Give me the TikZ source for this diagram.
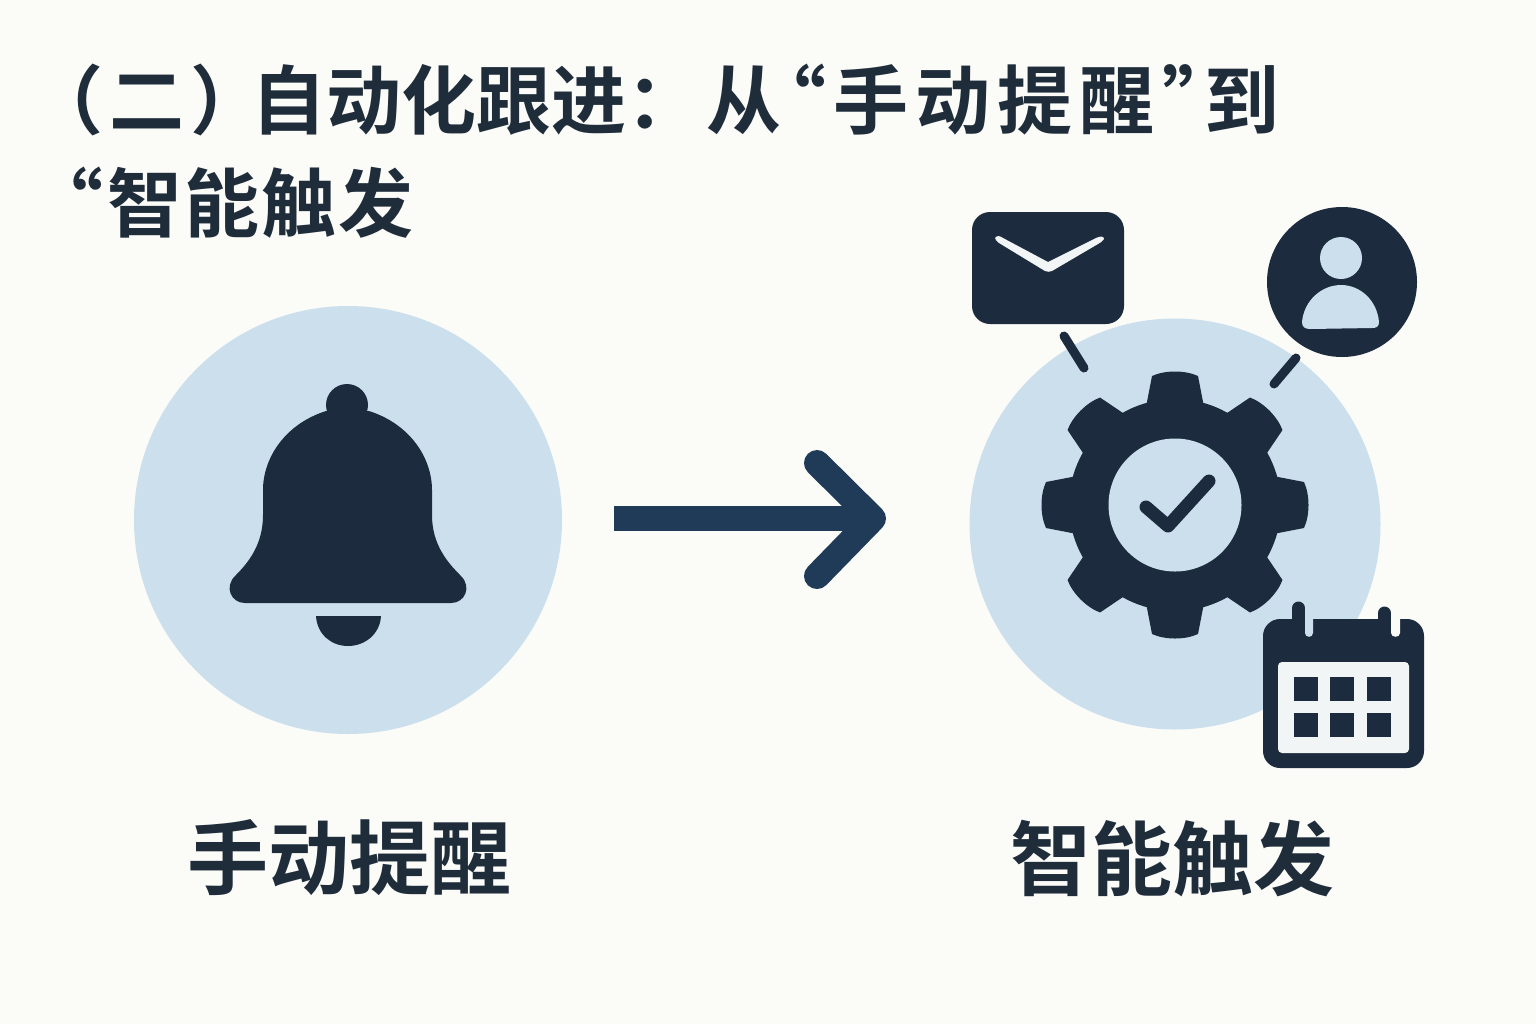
\documentclass[tikz,border=0pt]{standalone}
\usepackage{fontspec}
\newfontfamily\cjk{Noto Sans CJK SC}[UprightFont={* Bold}]
\definecolor{pagebg}{HTML}{FBFBF8}
\definecolor{ink}{HTML}{1C2C3E}
\definecolor{txt}{HTML}{1F2D3B}
\definecolor{pale}{HTML}{CBE0EC}
\definecolor{arrowblue}{HTML}{1F3B57}
\definecolor{sheet}{HTML}{F2F5F6}
\tikzset{
  titletext/.style={text=txt,inner sep=0pt,font=\cjk\fontsize{37.5}{40}\selectfont,anchor=west},
  labeltext/.style={text=txt,inner sep=0pt,font=\cjk\fontsize{40.5}{44}\selectfont},
  disc/.style={circle,fill=pale,inner sep=0pt,draw=none},
  stub/.style={draw=ink,line width=4.5pt,line cap=round},
  cell/.style={fill=ink}
}
\begin{document}
\begin{tikzpicture}[x=0.5pt,y=-0.5pt]
\fill[pagebg] (0,0) rectangle (1536,1024);
\useasboundingbox (0,0) rectangle (1536,1024);
% titles
\node[titletext] (t1) at (28,100) {（\kern3pt 二\kern3pt ）\kern-7pt 自动化跟进：\kern2.5pt 从\kern-15pt “\kern3.5pt 手\kern3.5pt 动\kern3.5pt 提\kern3.5pt 醒\kern4pt ”\kern-16.5pt 到};
\node[titletext] (t2) at (28,203) {“\kern2pt 智\kern1pt 能\kern1pt 触\kern1pt 发};
% discs
\node[disc,minimum size=214pt] (manual) at (348,520) {};
\node[disc,minimum size=205.5pt] (smart) at (1175,524) {};
% bell
\fill[ink] (347,405) circle (21);
\fill[ink] (326,411) .. controls (285,424) and (263,458) .. (263,490)
  -- (263,515) .. controls (263,545) and (248,563) .. (235,576)
  .. controls (224,587) and (231,603) .. (245,603)
  -- (451,603) .. controls (465,603) and (472,587) .. (461,576)
  .. controls (448,563) and (432,545) .. (432,515)
  -- (432,490) .. controls (432,458) and (410,424) .. (369,411) -- cycle;
\fill[ink] (316,616) -- (381,616) .. controls (380,634) and (365,646) .. (348,646)
  .. controls (331,646) and (317,634) .. (316,616) -- cycle;
% arrow
\coordinate (as) at (614,518.5);
\coordinate (at) at (873,518.5);
\coordinate (au) at (817,463);
\coordinate (ad) at (817,576);
\draw[arrowblue,line width=12.5pt] (as) -- (at);
\draw[arrowblue,line width=13pt,line cap=round,line join=round] (au) -- (at) -- (ad);
% gear
\foreach \a in {0,45,...,315}
  \fill[ink,shift={(1175,505)},rotate=\a] (-29,-98) -- (-23,-129) .. controls (-10,-135) and (10,-135) .. (23,-129) -- (29,-98) -- cycle;
\fill[ink] (1175,505) circle (106);
\fill[pale] (1175,505) circle (66.5);
\draw[ink,line width=6.5pt,line cap=round,line join=round] (1146,507) -- (1168,526) -- (1209,481);
% envelope
\node[fill=ink,rounded corners=9pt,minimum width=76pt,minimum height=56pt,inner sep=0pt] (mail) at (1048,268) {};
\fill[sheet] (995,238) .. controls (997,235) and (1000,236) .. (1003,238) -- (1048,262) -- (1096,238) .. controls (1100,236) and (1104,236) .. (1104,239) .. controls (1103,241) and (1100,243) .. (1098,244) -- (1052,271) .. controls (1050,272) and (1047,272) .. (1045,271) -- (999,243) .. controls (997,241) and (995,240) .. (995,238) -- cycle;
% person
\node[circle,fill=ink,minimum size=75pt,inner sep=0pt] (person) at (1342,282) {};
\fill[pale] (1341,258) circle (21);
\fill[pale] (1302,322) .. controls (1304,300) and (1322,285) .. (1341,285) .. controls (1360,285) and (1377,300) .. (1379,322) .. controls (1379,327) and (1376,328) .. (1372,328) -- (1310,329) .. controls (1305,329) and (1302,327) .. (1302,322) -- cycle;
% stubs
\coordinate (s1a) at (1064,336);
\coordinate (s1b) at (1084,368);
\coordinate (s2a) at (1296,358);
\coordinate (s2b) at (1274,384);
\draw[stub] (s1a) -- (s1b);
\draw[stub] (s2a) -- (s2b);
% calendar
\fill[ink,rounded corners=8.5pt] (1263,619) rectangle (1424,768);
\fill[pale] (1305,615) -- (1313,615) -- (1313,633) .. controls (1313,638) and (1305,638) .. (1305,633) -- cycle;
\fill[pagebg] (1391,615) -- (1400,615) -- (1400,633) .. controls (1400,638) and (1391,638) .. (1391,633) -- cycle;
\draw[ink,line width=6.5pt,line cap=round] (1298.5,608) -- (1298.5,630);
\draw[ink,line width=6.5pt,line cap=round] (1384.5,613) -- (1384.5,630);
\fill[sheet,rounded corners=2pt] (1278,662) rectangle (1409,753);
\foreach \cx in {1294,1330,1367}
  \foreach \cy in {677,713}
    \fill[cell] (\cx,\cy) rectangle +(24,24);
% labels
\node[labeltext] (l1) at (349,858) {手动提醒};
\node[labeltext] (l2) at (1172,858) {智能触发};
\end{tikzpicture}
\end{document}
